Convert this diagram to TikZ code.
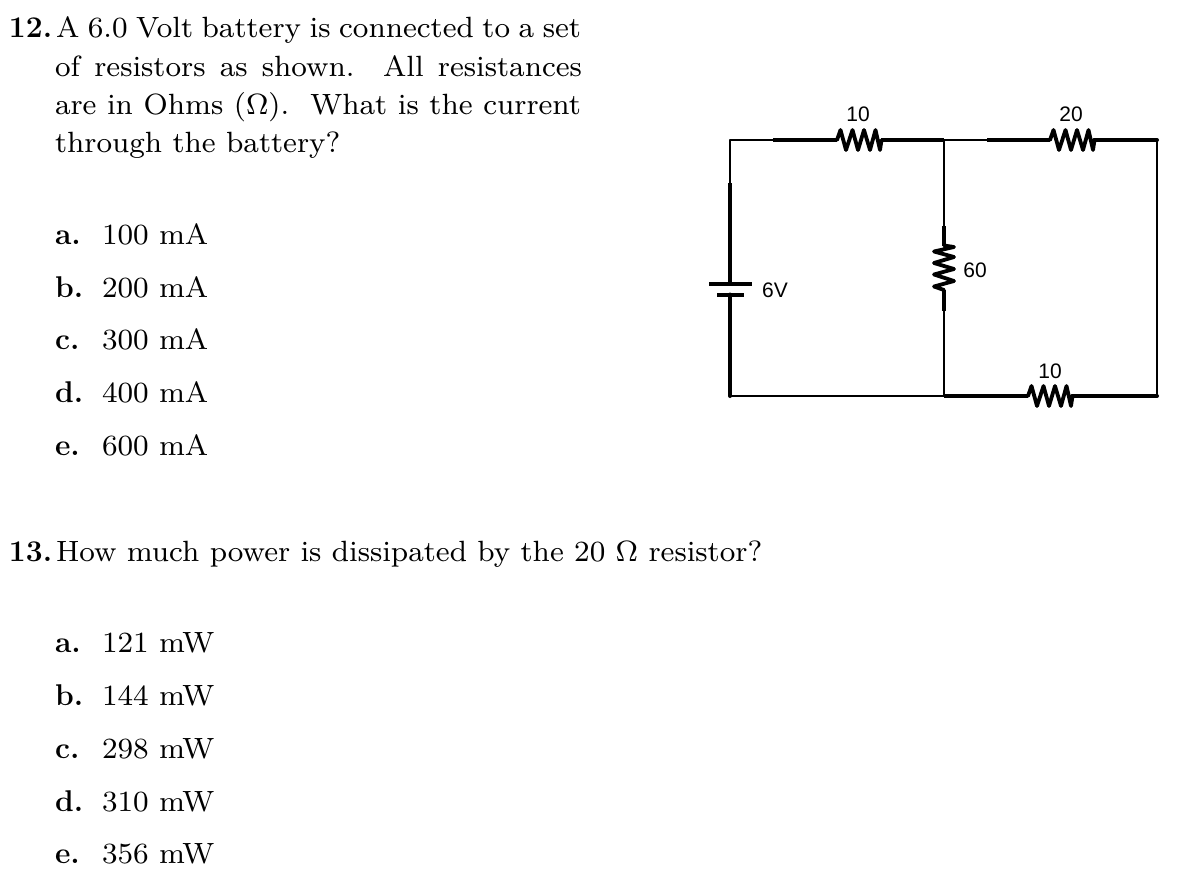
\documentclass[tikz,border=0pt]{standalone}
\usepackage{fontspec}
\newfontfamily\labelfont{Liberation Sans}
\newfontfamily\bodyfont{lmroman8-regular.otf}
\newcommand{\bd}[1]{{\rmfamily\bfseries\fontsize{30}{32}\selectfont #1}}
\tikzset{
  txt/.style={anchor=base west,inner sep=0pt,outer sep=0pt,font=\bodyfont\fontsize{29.3}{33}\selectfont},
  lab/.style={anchor=base,inner sep=0pt,font=\labelfont\fontsize{21}{23}\selectfont},
  thinw/.style={draw,line width=2pt},
  midw/.style={draw,line width=2.6pt},
  thickw/.style={draw,line width=4pt},
  plate/.style={draw,line width=4pt},
  zig/.pic={\draw[line width=3.8pt,line join=round,line cap=round]
    (0,0)--(3.5,-10)--(9,10)--(15.5,-10)--(21,10)--(27,-10)--(33,10)--(38.5,-10)--(43,10)--(44.5,0);}
}
\newcommand{\optline}[3]{%
  \node[txt] (l#1) at (55,#2) {\bd{#1.}};
  \node[txt] (v#1) at (102,#2) {#3};}
\begin{document}
\begin{tikzpicture}[x=1pt,y=-1pt]
\useasboundingbox (0,0) rectangle (1194,880);
\fill[white] (0,0) rectangle (1194,880);
% question 12
\node[txt] (q12n) at (9,38) {\bd{12.}};
\node[txt] (q12a) at (56,38) {\makebox[525pt][s]{A 6.0 Volt battery is connected to a set}};
\node[txt] (q12b) at (55,77) {\makebox[527pt][s]{of resistors as shown.\ \ All resistances}};
\node[txt] (q12c) at (55,115) {\makebox[526pt][s]{are in Ohms (Ω).\ \ What is the current}};
\node[txt] (q12d) at (55,153) {through the battery?};
\optline{a}{244}{100 mA}
\optline{b}{297}{200 mA}
\optline{c}{349}{300 mA}
\optline{d}{402}{400 mA}
\optline{e}{455}{600 mA}
% question 13
\node[txt] (q13n) at (9,561) {\bd{13.}};
\node[txt] (q13a) at (56,561) {How much power is dissipated by the 20 Ω resistor?};
\node[txt] (pa) at (55,652) {\bd{a.}}; \node[txt] (pav) at (102,652) {121 mW};
\node[txt] (pb) at (55,705) {\bd{b.}}; \node[txt] (pbv) at (102,705) {144 mW};
\node[txt] (pc) at (55,758) {\bd{c.}}; \node[txt] (pcv) at (102,758) {298 mW};
\node[txt] (pd) at (55,811) {\bd{d.}}; \node[txt] (pdv) at (102,811) {310 mW};
\node[txt] (pe) at (55,863.5) {\bd{e.}}; \node[txt] (pev) at (102,863.5) {356 mW};
% circuit junctions
\coordinate (tl) at (730,140);
\coordinate (tm) at (944,140);
\coordinate (tr) at (1157,140);
\coordinate (bl) at (730,396);
\coordinate (bm) at (944,396);
\coordinate (br) at (1157,396);
\coordinate (tl2) at (773,140);
\coordinate (tm2) at (987,140);
\coordinate (r1a) at (837,140);
\coordinate (r1b) at (881,140);
\coordinate (r2a) at (1050,140);
\coordinate (r2b) at (1094,140);
\coordinate (r3a) at (944,246);
\coordinate (r3b) at (944,290);
\coordinate (r3c) at (944,226);
\coordinate (r3d) at (944,311);
\coordinate (r4a) at (1028,396);
\coordinate (r4b) at (1072,396);
\coordinate (lv) at (730,183);
\coordinate (bt1) at (730,283.5);
\coordinate (bt2) at (730,294.5);
\coordinate (p1a) at (709,283.5);
\coordinate (p1b) at (752,283.5);
\coordinate (p2a) at (717,294.5);
\coordinate (p2b) at (744,294.5);
% wires
\path[thinw,line cap=round,line join=round] (lv) -- (tl) -- (tl2);
\path[thickw] (tl2) -- (r1a);
\path[thickw] (r1b) -- (tm);
\path[thinw] (tm) -- (tm2);
\path[thickw] (tm2) -- (r2a);
\path[thickw,line cap=round] (r2b) -- (tr);
\path[midw,line cap=round] (tr) -- (br);
\path[thickw,line cap=round] (br) -- (r4b);
\path[thickw] (r4a) -- (bm);
\path[thinw,line cap=round] (bm) -- (bl);
\path[midw] (tm) -- (r3c);
\path[thickw] (r3c) -- (r3a);
\path[thickw] (r3b) -- (r3d);
\path[midw] (r3d) -- (bm);
\path[thickw] (lv) -- (bt1);
\path[thickw,line cap=round] (bt2) -- (bl);
\path[plate] (p1a) -- (p1b);
\path[plate] (p2a) -- (p2b);
% resistors
\pic at (r1a) {zig};
\pic at (r2a) {zig};
\pic at (r4a) {zig};
\pic[rotate=90] at (r3b) {zig};
% labels
\node[lab] (n10a) at (858,122) {10};
\node[lab] (n20) at (1071,122) {20};
\node[lab] (n60) at (975,277) {60};
\node[lab] (n6v) at (775,297) {6V};
\node[lab] (n10b) at (1050,378) {10};
\end{tikzpicture}
\end{document}
